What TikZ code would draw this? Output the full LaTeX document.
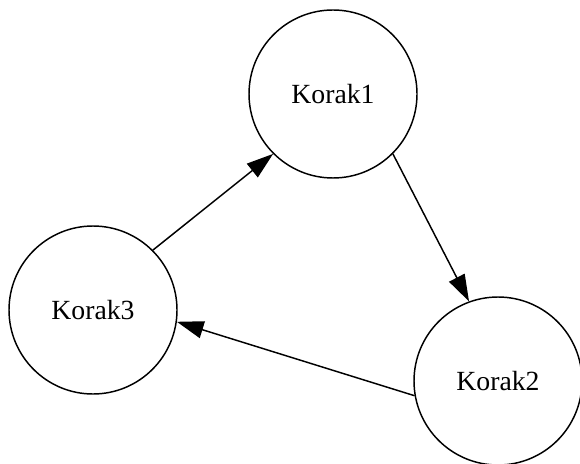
\documentclass[tikz,border=0pt]{standalone}
\usepackage{fontspec}
\setmainfont{Liberation Serif}
\usetikzlibrary{arrows.meta,positioning}

\begin{document}
\begin{tikzpicture}[node distance=2cm,on grid,
    korak/.style={circle,draw,line width=1.1pt,inner sep=0pt,minimum size=126pt,font=\fontsize{20.8}{24}\selectfont},
    pijl/.style={draw,line width=1.1pt,-{Triangle[length=20pt,width=13pt]}}]

      \useasboundingbox (0,0) rectangle (435pt,-347.25pt);

      \node[korak] (korak1) at (249.75pt,-70.5pt) {Korak1};
      \node[korak] (korak2) [below right=215.25pt and 123.75pt of korak1] {Korak2};
      \node[korak] (korak3) [below left=162pt and 180pt of korak1] {Korak3};

      \path
      (korak3.45) edge[pijl] (korak1.225)
      (korak1.-45) edge[pijl] (korak2.110)
      (korak2.190) edge[pijl] (korak3.352)
      ;
    \end{tikzpicture}
\end{document}
